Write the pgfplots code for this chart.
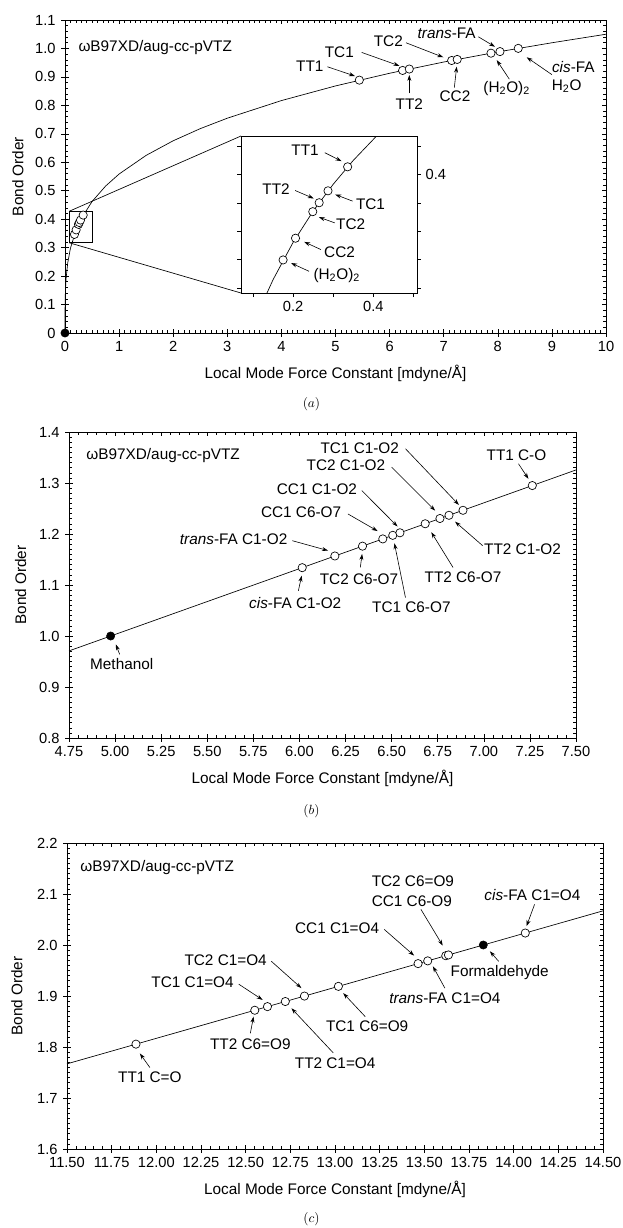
\documentclass[border=0pt]{standalone}
\usepackage{fontspec}
\setmainfont{Liberation Sans}
\usepackage{pgfplots}
\pgfplotsset{compat=1.18}
\usetikzlibrary{arrows.meta}
\tikzset{
  ann/.style={font=\fontsize{11.5}{13}\selectfont, inner sep=0pt},
  arr/.style={-{Stealth[length=4.5pt,width=3pt]}, line width=0.45pt},
}
\pgfplotsset{
  bo/.style={
    scale only axis, anchor=north west,
    tick align=inside, major tick length=3pt, minor tick length=2.2pt,
    tick style={black, line width=0.45pt},
    axis line style={line width=0.6pt},
    /pgf/number format/assume math mode=true,
    tick label style={font=\fontsize{11}{12}\selectfont},
    xticklabel style={yshift=-2.5pt},
    yticklabel style={xshift=-3.5pt},
    xlabel={Local Mode Force Constant [mdyne/Å]},
    ylabel={Bond Order},
    xlabel style={font=\fontsize{11.5}{13}\selectfont, at={(axis description cs:0.5,0)}, anchor=center, yshift=-30pt},
    ylabel style={font=\fontsize{11.5}{13}\selectfont},
    clip=false,
  },
  stubs/.style={
    scale only axis, anchor=north west,
    axis x line*=bottom, axis y line*=left,
    axis line style={-, line width=0.6pt},
    tick align=outside, major tick length=2.8pt, minor tick num=0,
    tick style={black, line width=0.45pt},
    xticklabels={}, yticklabels={},
  },
  fit/.style={black, line width=0.5pt, no markers},
  open/.style={only marks, mark=*, mark size=3.1pt, mark options={fill=white, draw=black, line width=0.5pt}},
  filled/.style={only marks, mark=*, mark size=3.1pt, mark options={fill=black, draw=black}},
}
\begin{document}
\begin{tikzpicture}
\useasboundingbox (0,0) rectangle (467.25pt,-921pt);
% ---------------- panel (a)
\begin{axis}[stubs, at={(48.75pt,-15pt)}, width=405.75pt, height=234.75pt,
  xmin=0, xmax=10, ymin=0, ymax=1.1,
  xtick={0,1,2,3,4,5,6,7,8,9,10},
  ytick={0,0.1,0.2,0.3,0.4,0.5,0.6,0.7,0.8,0.9,1.0,1.1}]
\end{axis}
\begin{axis}[bo, name=A, at={(48.75pt,-15pt)}, width=405.75pt, height=234.75pt,
  xmin=0, xmax=10, ymin=0, ymax=1.1,
  xtick={0,1,2,3,4,5,6,7,8,9,10}, minor x tick num=9,
  ytick={0,0.1,0.2,0.3,0.4,0.5,0.6,0.7,0.8,0.9,1.0,1.1},
  yticklabels={0,0.1,0.2,0.3,0.4,0.5,0.6,0.7,0.8,0.9,1.0,1.1},
  minor y tick num=4,
  ylabel style={at={(axis description cs:-0.087,0.5)}, anchor=center},
]
\addplot[fit] coordinates {(0,0) (0.0001,0.0448) (0.001,0.0842) (0.005,0.1309) (0.01,0.1582) (0.02,0.1913) (0.05,0.2459) (0.1,0.2973) (0.2,0.3595) (0.3,0.4017) (0.5,0.4621) (0.75,0.5163) (1,0.5587) (1.5,0.6243) (2,0.6756) (2.5,0.7182) (3,0.7549) (4,0.8168) (5,0.8683) (6,0.9128) (7,0.9523) (8,0.9878) (9,1.0200) (10,1.0500)};
\addplot[open] coordinates {(0.175,0.3466) (0.206,0.3624) (0.249,0.3818) (0.265,0.3883) (0.287,0.3969) (0.336,0.4144)};
\addplot[open] coordinates {(5.44,0.8887) (6.24,0.9227) (6.364,0.9277) (7.147,0.9577) (7.25,0.9614) (7.874,0.9834) (8.04,0.9890) (8.378,1.0003)};
\addplot[filled] coordinates {(0,0)};
\draw[line width=0.5pt] (axis cs:0.08,0.317) rectangle (axis cs:0.50,0.428);
\coordinate (bt) at (axis cs:0.08,0.428);
\coordinate (bb) at (axis cs:0.08,0.317);
\node[ann, anchor=west] at (axis cs:0.245,1.004) {ωB97XD/aug-cc-pVTZ};
\node[ann] at (axis cs:4.526,0.938) {TT1};
\draw[arr] (axis cs:4.851,0.9356) -- (axis cs:5.36,0.903);
\node[ann] at (axis cs:5.071,0.9865) {TC1};
\draw[arr] (axis cs:5.485,0.986) -- (axis cs:6.18,0.939);
\node[ann] at (axis cs:5.976,1.026) {TC2};
\draw[arr] (axis cs:6.303,1.02) -- (axis cs:6.993,0.969);
\node[ann] at (axis cs:7.055,1.053) {\textit{trans}-FA};
\draw[arr] (axis cs:7.640,1.041) -- (axis cs:7.948,1.006);
\node[ann] at (axis cs:6.364,0.805) {TT2};
\draw[arr] (axis cs:6.364,0.842) -- (axis cs:6.364,0.907);
\node[ann] at (axis cs:7.209,0.833) {CC2};
\draw[arr] (axis cs:7.196,0.862) -- (axis cs:7.24,0.936);
\node[ann] at (axis cs:8.164,0.86) {(H\textsubscript{2}O)\textsubscript{2}};
\draw[arr] (axis cs:8.213,0.892) -- (axis cs:7.98,0.959);
\node[ann] at (axis cs:9.396,0.936) {\textit{cis}-FA};
\node[ann] at (axis cs:9.274,0.867) {H\textsubscript{2}O};
\draw[arr] (axis cs:9.0,0.908) -- (axis cs:8.534,0.969);
\end{axis}
% ---------------- inset
\begin{axis}[name=I, at={(180.75pt,-102pt)}, anchor=north west, scale only axis,
  width=132pt, height=117.75pt,
  xmin=0.07, xmax=0.509, ymin=0.3165, ymax=0.4271,
  axis background/.style={fill=white},
  tick align=outside, major tick length=3pt, tick style={black, line width=0.45pt},
  axis line style={line width=0.6pt},
  /pgf/number format/assume math mode=true,
  tick label style={font=\fontsize{11}{12}\selectfont},
  xtick={0.1,0.2,0.3,0.4,0.5}, xticklabels={,0.2,,0.4,},
  ytick={0.32,0.34,0.36,0.38,0.40,0.42}, yticklabels={,,,,0.4,},
  xtick pos=bottom, ytick pos=both, yticklabel pos=right,
  minor tick num=0,
]
\addplot[fit] coordinates {(0.13,0.3135) (0.15,0.3259) (0.2,0.3522) (0.25,0.3742) (0.3,0.3931) (0.35,0.4099) (0.42,0.4306)};
\addplot[open] coordinates {(0.175,0.3398) (0.206,0.3551) (0.249,0.3738) (0.265,0.3801) (0.287,0.3885) (0.336,0.4054)};
\node[ann] at (axis cs:0.2297,0.4172) {TT1};
\draw[arr] (axis cs:0.2792,0.4153) -- (axis cs:0.3208,0.4094);
\node[ann] at (axis cs:0.1574,0.3899) {TT2};
\draw[arr] (axis cs:0.205,0.3887) -- (axis cs:0.2515,0.3831);
\node[ann] at (axis cs:0.3931,0.3788) {TC1};
\draw[arr] (axis cs:0.3485,0.3812) -- (axis cs:0.305,0.3859);
\node[ann] at (axis cs:0.3436,0.3652) {TC2};
\draw[arr] (axis cs:0.304,0.3659) -- (axis cs:0.2644,0.3699);
\node[ann] at (axis cs:0.3158,0.3454) {CC2};
\draw[arr] (axis cs:0.2693,0.3471) -- (axis cs:0.2277,0.3525);
\node[ann] at (axis cs:0.3089,0.3289) {(H\textsubscript{2}O)\textsubscript{2}};
\draw[arr] (axis cs:0.2396,0.3318) -- (axis cs:0.195,0.3376);
\end{axis}
\draw[line width=0.5pt] (bt) -- (I.north west);
\draw[line width=0.5pt] (bb) -- (I.south west);
\node at (233.6pt,-303pt) {$(a)$};
% ---------------- panel (b)
\begin{axis}[stubs, at={(51.75pt,-324pt)}, width=380.25pt, height=229.5pt,
  xmin=4.75, xmax=7.5, ymin=0.8, ymax=1.4,
  xtick={4.75,5,5.25,5.5,5.75,6,6.25,6.5,6.75,7,7.25,7.5},
  ytick={0.8,0.9,1.0,1.1,1.2,1.3,1.4}]
\end{axis}
\begin{axis}[bo, at={(51.75pt,-324pt)}, width=380.25pt, height=229.5pt,
  xmin=4.75, xmax=7.5, ymin=0.8, ymax=1.4,
  xtick={4.75,5,5.25,5.5,5.75,6,6.25,6.5,6.75,7,7.25,7.5},
  xticklabels={4.75,5.00,5.25,5.50,5.75,6.00,6.25,6.50,6.75,7.00,7.25,7.50},
  minor x tick num=4,
  ytick={0.8,0.9,1.0,1.1,1.2,1.3,1.4},
  yticklabels={0.8,0.9,1.0,1.1,1.2,1.3,1.4},
  minor y tick num=9,
  ylabel style={at={(axis description cs:-0.0955,0.5)}, anchor=center},
]
\addplot[fit] coordinates {(4.75,0.9708) (7.5,1.3256)};
\addplot[open] coordinates {(6.015,1.134) (6.192,1.1569) (6.342,1.1762) (6.452,1.1904) (6.506,1.1974) (6.545,1.2024) (6.682,1.2201) (6.762,1.2304) (6.811,1.2367) (6.887,1.2465) (7.263,1.295)};
\addplot[filled] coordinates {(4.976,1.0)};
\node[ann, anchor=west] at (axis cs:4.843,1.353) {ωB97XD/aug-cc-pVTZ};
\node[ann] at (axis cs:6.327,1.3685) {TC1 C1-O2};
\draw[arr] (axis cs:6.575,1.3672) -- (axis cs:6.865,1.257);
\node[ann] at (axis cs:6.252,1.3344) {TC2 C1-O2};
\draw[arr] (axis cs:6.5,1.3311) -- (axis cs:6.736,1.2459);
\node[ann] at (axis cs:7.177,1.3554) {TT1 C-O};
\draw[arr] (axis cs:7.188,1.3377) -- (axis cs:7.242,1.3082);
\node[ann] at (axis cs:6.095,1.2885) {CC1 C1-O2};
\draw[arr] (axis cs:6.338,1.2852) -- (axis cs:6.532,1.2147);
\node[ann] at (axis cs:6.009,1.2426) {CC1 C6-O7};
\draw[arr] (axis cs:6.263,1.2393) -- (axis cs:6.424,1.2058);
\node[ann] at (axis cs:5.643,1.1902) {\textit{trans}-FA C1-O2};
\draw[arr] (axis cs:5.961,1.1869) -- (axis cs:6.155,1.1675);
\node[ann] at (axis cs:5.977,1.0656) {\textit{cis}-FA C1-O2};
\draw[arr] (axis cs:5.994,1.0885) -- (axis cs:6.012,1.1183);
\node[ann] at (axis cs:6.323,1.1115) {TC2 C6-O7};
\draw[arr] (axis cs:6.33,1.1344) -- (axis cs:6.34,1.1609);
\node[ann] at (axis cs:6.607,1.0557) {TC1 C6-O7};
\draw[arr] (axis cs:6.575,1.0754) -- (axis cs:6.515,1.1819);
\node[ann] at (axis cs:6.887,1.1148) {TT2 C6-O7};
\draw[arr] (axis cs:6.833,1.1344) -- (axis cs:6.715,1.2036);
\node[ann] at (axis cs:7.21,1.1705) {TT2 C1-O2};
\draw[arr] (axis cs:6.994,1.177) -- (axis cs:6.844,1.2242);
\node[ann] at (axis cs:5.036,0.9456) {Methanol};
\draw[arr] (axis cs:5.025,0.9639) -- (axis cs:5.004,0.9836);
\end{axis}
\node at (233.6pt,-608.7pt) {$(b)$};
% ---------------- panel (c)
\begin{axis}[stubs, at={(50.25pt,-632.25pt)}, width=402pt, height=229.5pt,
  xmin=11.5, xmax=14.5, ymin=1.6, ymax=2.2,
  xtick={11.5,11.75,12,12.25,12.5,12.75,13,13.25,13.5,13.75,14,14.25,14.5},
  ytick={1.6,1.7,1.8,1.9,2.0,2.1,2.2}]
\end{axis}
\begin{axis}[bo, at={(50.25pt,-632.25pt)}, width=402pt, height=229.5pt,
  xmin=11.5, xmax=14.5, ymin=1.6, ymax=2.2,
  xtick={11.5,11.75,12,12.25,12.5,12.75,13,13.25,13.5,13.75,14,14.25,14.5},
  xticklabels={11.50,11.75,12.00,12.25,12.50,12.75,13.00,13.25,13.50,13.75,14.00,14.25,14.50},
  minor x tick num=4,
  ytick={1.6,1.7,1.8,1.9,2.0,2.1,2.2},
  yticklabels={1.6,1.7,1.8,1.9,2.0,2.1,2.2},
  minor y tick num=9,
  ylabel style={at={(axis description cs:-0.0935,0.5)}, anchor=center},
]
\addplot[fit] coordinates {(11.5,1.767) (14.5,2.067)};
\addplot[open] coordinates {(11.886,1.8056) (12.551,1.8721) (12.622,1.8792) (12.722,1.8892) (12.829,1.8999) (13.019,1.9189) (13.465,1.9635) (13.519,1.9689) (13.62,1.979) (13.635,1.9805) (14.065,2.0235)};
\addplot[filled] coordinates {(13.83,2.0)};
\node[ann, anchor=west] at (axis cs:11.574,2.152) {ωB97XD/aug-cc-pVTZ};
\node[ann] at (axis cs:13.436,2.1257) {TC2 C6=O9};
\node[ann] at (axis cs:13.43,2.0863) {CC1 C6-O9};
\draw[arr] (axis cs:13.481,2.0699) -- (axis cs:13.603,1.9989);
\node[ann] at (axis cs:14.105,2.0975) {\textit{cis}-FA C1=O4};
\draw[arr] (axis cs:14.117,2.0797) -- (axis cs:14.072,2.037);
\node[ann] at (axis cs:13.012,2.0337) {CC1 C1=O4};
\draw[arr] (axis cs:13.276,2.0305) -- (axis cs:13.443,1.9792);
\node[ann] at (axis cs:13.922,1.9463) {Formaldehyde};
\draw[arr] (axis cs:13.916,1.968) -- (axis cs:13.867,1.9877);
\node[ann] at (axis cs:13.615,1.8957) {\textit{trans}-FA C1=O4};
\draw[arr] (axis cs:13.615,1.9154) -- (axis cs:13.548,1.9582);
\node[ann] at (axis cs:12.388,1.97) {TC2 C1=O4};
\draw[arr] (axis cs:12.644,1.968) -- (axis cs:12.812,1.9155);
\node[ann] at (axis cs:12.203,1.9266) {TC1 C1=O4};
\draw[arr] (axis cs:12.461,1.9233) -- (axis cs:12.595,1.8924);
\node[ann] at (axis cs:13.18,1.8399) {TC1 C6=O9};
\draw[arr] (axis cs:13.169,1.8596) -- (axis cs:13.046,1.9056);
\node[ann] at (axis cs:12.526,1.8057) {TT2 C6=O9};
\draw[arr] (axis cs:12.526,1.8267) -- (axis cs:12.544,1.8596);
\node[ann] at (axis cs:13.001,1.7689) {TT2 C1=O4};
\draw[arr] (axis cs:12.99,1.7886) -- (axis cs:12.756,1.876);
\node[ann] at (axis cs:11.964,1.74) {TT1 C=O};
\draw[arr] (axis cs:11.964,1.7597) -- (axis cs:11.908,1.7873);
\end{axis}
\node at (233.6pt,-914.25pt) {$(c)$};
\end{tikzpicture}
\end{document}
